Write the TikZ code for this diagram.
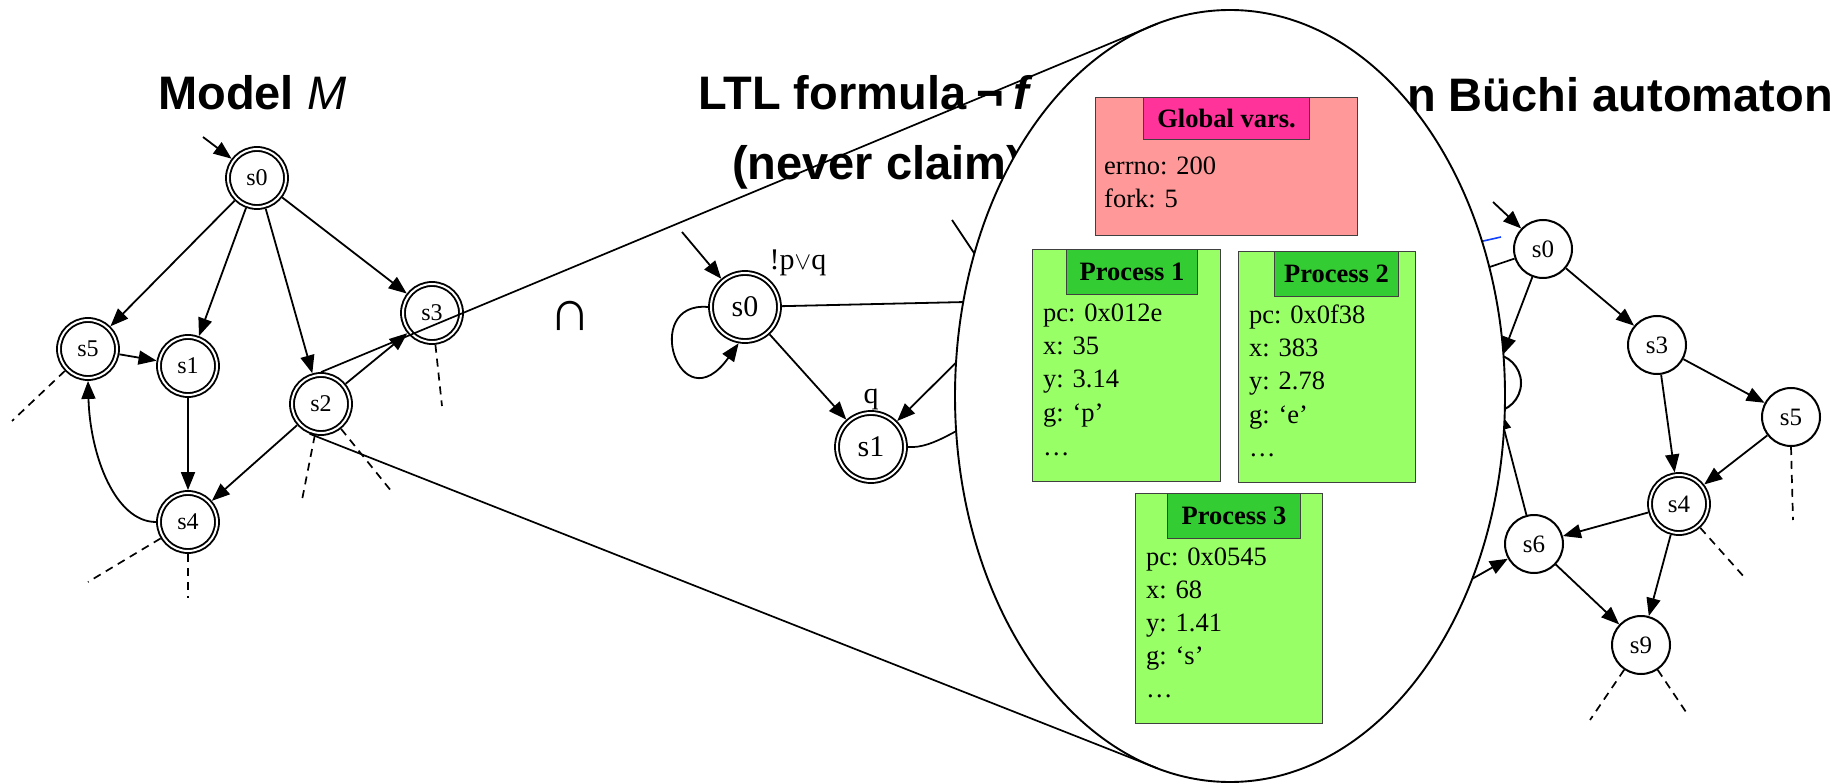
\documentclass[tikz,border=0pt]{standalone}
\usepackage{fontspec}
\setmainfont{Liberation Serif}
\newfontfamily\titlefont{Liberation Sans}
\usetikzlibrary{arrows.meta,shapes.geometric}
\definecolor{pinkbox}{HTML}{FF9999}
\definecolor{pinktab}{HTML}{FF3399}
\definecolor{greenbox}{HTML}{99FF66}
\definecolor{greentab}{HTML}{33CC33}
\definecolor{edgeblue}{HTML}{1040FF}
\begin{document}
\begin{tikzpicture}[x=1pt,y=-1pt,
  title/.style={font=\titlefont\bfseries\fontsize{47}{56}\selectfont, inner sep=0pt, anchor=base west},
  dstate/.style={circle, draw, double, double distance=2pt, line width=1.9pt, minimum size=58pt, inner sep=0pt, outer sep=2.9pt, font=\fontsize{24}{24}\selectfont},
  mstate/.style={dstate, minimum size=68pt, font=\fontsize{30}{30}\selectfont},
  rstate/.style={circle, draw, line width=2pt, minimum size=58pt, inner sep=0pt, outer sep=1pt, font=\fontsize{25}{25}\selectfont},
  rdstate/.style={dstate, font=\fontsize{25}{25}\selectfont},
  edge/.style={line width=1.8pt, -{Triangle[length=18pt,width=14pt]}},
  dashline/.style={line width=1.7pt, dash pattern=on 8pt off 6pt},
  plain/.style={line width=1.7pt},
  bigbox/.style={draw=black!75, line width=1pt, inner sep=0pt, anchor=north west},
  vtext/.style={font=\fontsize{26.5}{30}\selectfont, inner sep=0pt, anchor=base west},
  tabtext/.style={font=\bfseries\fontsize{26.5}{30}\selectfont},
  lbl/.style={font=\fontsize{30}{30}\selectfont, inner sep=0pt}
]
\useasboundingbox (0,0) rectangle (1847,783);

% ---------- titles ----------
\node[title] (t1) at (158,110) {Model {\mdseries\itshape M}};
\node[title] (t2) at (698,110) {LTL formula\hspace{0.21em}¬\hspace{0.21em}\textit{f}};
\node[title] (t3) at (732,180) {(never claim)};
\node[title, anchor=base east] (t4) at (1833,112) {n Büchi automaton};
\node[font=\titlefont\fontsize{58}{58}\selectfont, inner sep=0pt] (cap) at (570,316) {∩};

% ---------- left graph: model M ----------
\node[dstate] (a0) at (257,178) {s0};
\node[dstate] (a5) at (88,349) {s5};
\node[dstate] (a1) at (188,366) {s1};
\node[dstate] (a3) at (432,313) {s3};
\node[dstate] (a2) at (321,404) {s2};
\node[dstate] (a4) at (188,522) {s4};
\coordinate (ai) at (203,137);
\draw[edge] (ai) -- (a0);
\draw[edge] (a0) -- (a5);
\draw[edge] (a0) -- (a1);
\draw[edge] (a0) -- (a2);
\draw[edge] (a0) -- (a3);
\draw[edge] (a5) -- (a1);
\draw[edge] (a1) -- (a4);
\draw[edge] (a2) -- (a3);
\draw[edge] (a2) -- (a4);
\draw[edge] (a4.west) .. controls (115,522) and (90,455) .. (a5.south);
\coordinate (ad1) at (12,421);
\coordinate (ad2) at (442,406);
\coordinate (ad3) at (302,500);
\coordinate (ad4) at (392,492);
\coordinate (ad5) at (88,582);
\coordinate (ad6) at (188,598);
\draw[dashline] (a5) -- (ad1);
\draw[dashline] (a3) -- (ad2);
\draw[dashline] (a2) -- (ad3);
\draw[dashline] (a2) -- (ad4);
\draw[dashline] (a4) -- (ad5);
\draw[dashline] (a4.south) -- (ad6);

% ---------- middle graph: never claim ----------
\node[mstate] (m0) at (745,307) {s0};
\node[mstate] (m1) at (871,447) {s1};
\node[lbl, anchor=base] (l0) at (798,270) {!p$\vee$q};
\node[lbl, anchor=base] (l1) at (871,403) {q};
\coordinate (mi) at (682,232);
\draw[edge] (mi) -- (m0);
\draw[edge] (m0.west) .. controls (640,301) and (680,426) .. (m0.-100);
\draw[edge] (m0) -- (m1);
\coordinate (hA) at (1010,301);
\coordinate (hB) at (995,324);
\coordinate (hC) at (1000,410);
\coordinate (hD) at (952,220);
\coordinate (hE) at (990,277);
\draw[edge] (m0) -- (hA);
\draw[edge] (hB) -- (m1);
\draw[plain] (m1.east) .. controls (935,449) and (960,425) .. (hC);
\draw[edge] (hD) -- (hE);

% ---------- right graph: product ----------
\node[rstate] (r0) at (1543,249) {s0};
\node[rstate] (r3) at (1657,345) {s3};
\node[rstate] (r5) at (1791,417) {s5};
\node[rdstate] (r4) at (1679,504) {s4};
\node[rstate] (r6) at (1534,544) {s6};
\node[rstate] (r9) at (1641,645) {s9};
\node[rstate] (rh) at (1492,383) {};
\coordinate (ri) at (1493,202);
\draw[edge] (ri) -- (r0);
\draw[edge] (r0) -- (r3);
\draw[edge] (r3) -- (r4);
\draw[edge] (r3) -- (r5);
\draw[edge] (r5) -- (r4);
\draw[edge] (r4) -- (r6);
\draw[edge] (r4) -- (r9);
\draw[edge] (r6) -- (r9);
\draw[edge] (r6) -- (rh);
\draw[edge] (r0) -- (rh);
\coordinate (rx1) at (1460,277);
\coordinate (rx2) at (1440,597);
\coordinate (rb1) at (1470,244);
\coordinate (rb2) at (1501,237);
\draw[plain] (r0) -- (rx1);
\draw[edge] (rx2) -- (r6);
\draw[line width=1.6pt, edgeblue] (rb1) -- (rb2);
\coordinate (rd1) at (1793,520);
\coordinate (rd2) at (1745,578);
\coordinate (rd3) at (1590,720);
\coordinate (rd4) at (1686,712);
\draw[dashline] (r5.south) -- (rd1);
\draw[dashline] (r4) -- (rd2);
\draw[dashline] (r9) -- (rd3);
\draw[dashline] (r9) -- (rd4);

% ---------- magnifying lens ----------
\node[ellipse, draw, line width=1.9pt, fill=white, minimum width=550pt, minimum height=772pt, inner sep=0pt, outer sep=0pt] (lens) at (1230,396) {};
\draw[plain] (a2.north) -- (lens.101.7);
\draw[plain] (a2.-111) -- (lens.-101.2);

% ---------- state boxes ----------
\node[bigbox, fill=pinkbox, minimum width=262pt, minimum height=138pt] (gbox) at (1095,97) {};
\node[bigbox, fill=pinktab, minimum width=166pt, minimum height=42pt, tabtext] (gtab) at (1143,97) {Global vars.};
\node[vtext] (g1) at (1104,175) {errno: 200};
\node[vtext] (g2) at (1104,208) {fork: 5};

\node[bigbox, fill=greenbox, minimum width=188pt, minimum height=232pt] (p1box) at (1032,249) {};
\node[bigbox, fill=greentab, minimum width=131pt, minimum height=45pt, tabtext] (p1tab) at (1066,249) {Process 1};
\node[vtext] (p1a) at (1043,322) {pc: 0x012e};
\node[vtext] (p1b) at (1043,355) {x: 35};
\node[vtext] (p1c) at (1043,388) {y: 3.14};
\node[vtext] (p1d) at (1043,421) {g: ‘p’};
\node[vtext] (p1e) at (1043,455) {…};

\node[bigbox, fill=greenbox, minimum width=177pt, minimum height=231pt] (p2box) at (1238,251) {};
\node[bigbox, fill=greentab, minimum width=124pt, minimum height=45pt, tabtext] (p2tab) at (1274,251) {Process 2};
\node[vtext] (p2a) at (1249,324) {pc: 0x0f38};
\node[vtext] (p2b) at (1249,357) {x: 383};
\node[vtext] (p2c) at (1249,390) {y: 2.78};
\node[vtext] (p2d) at (1249,423) {g: ‘e’};
\node[vtext] (p2e) at (1249,456) {…};

\node[bigbox, fill=greenbox, minimum width=187pt, minimum height=230pt] (p3box) at (1135,493) {};
\node[bigbox, fill=greentab, minimum width=133pt, minimum height=45pt, tabtext] (p3tab) at (1167,493) {Process 3};
\node[vtext] (p3a) at (1146,565) {pc: 0x0545};
\node[vtext] (p3b) at (1146,598) {x: 68};
\node[vtext] (p3c) at (1146,631) {y: 1.41};
\node[vtext] (p3d) at (1146,664) {g: ‘s’};
\node[vtext] (p3e) at (1146,697) {…};
\end{tikzpicture}
\end{document}
